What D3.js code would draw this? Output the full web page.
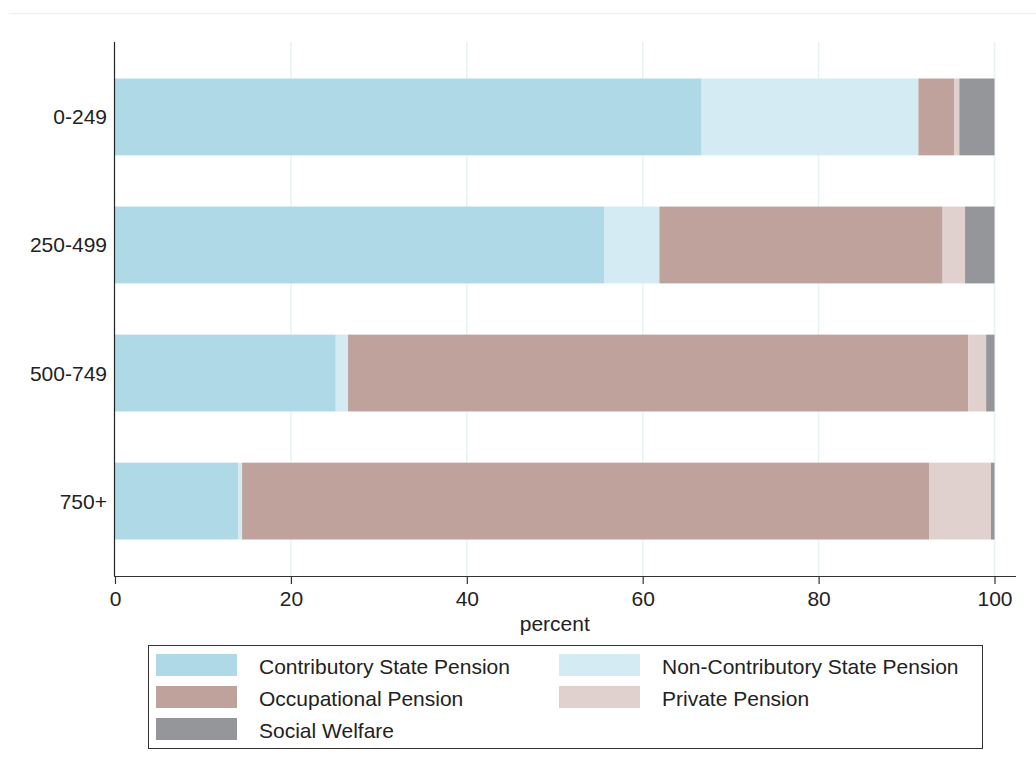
<!DOCTYPE html>
<html>
<head>
<meta charset="utf-8">
<script src="https://cdn.jsdelivr.net/npm/d3@7"></script>
<style>
  html, body { margin: 0; padding: 0; background: #fff; }
  svg { display: block; font-family: "Liberation Sans", Arial, sans-serif; }
</style>
</head>
<body>
<svg id="chart" width="1036" height="775"></svg>
<script>
const categories = ["0-249", "250-499", "500-749", "750+"];
const seriesNames = ["Contributory State Pension", "Non-Contributory State Pension", "Occupational Pension", "Private Pension", "Social Welfare"];
const contributory    = [66.7, 55.6, 25.1, 14.0];
const nonContributory = [24.65, 6.3, 1.4, 0.45];
const occupational    = [4.05, 32.2, 70.5, 78.15];
const privatePension  = [0.6, 2.55, 2.05, 7.0];
const socialWelfare   = [4.0, 3.35, 0.95, 0.4];
const xTicks = [0, 20, 40, 60, 80, 100];
const colors = ["#afd9e6", "#d5ebf3", "#bea29b", "#e0d1ce", "#95969a"];

const seriesValues = [contributory, nonContributory, occupational, privatePension, socialWelfare];
const rows = categories.map((c, i) => {
  const r = { cat: c };
  seriesNames.forEach((s, j) => r[s] = seriesValues[j][i]);
  return r;
});

const FS = 21;
const svg = d3.select("#chart");

// top faint border line
svg.append("line").attr("x1", 9).attr("x2", 1036).attr("y1", 13.5).attr("y2", 13.5)
  .attr("stroke", "#edf2f2").attr("stroke-width", 1.5);

const x = d3.scaleLinear().domain([0, 100]).range([115, 994.5]);
const y = d3.scaleBand().domain(categories).range([42, 576]).paddingInner(0.4).paddingOuter(0.285);

// gridlines
svg.append("g").selectAll("line").data(xTicks.filter(t => t > 0)).join("line")
  .attr("x1", d => x(d)).attr("x2", d => x(d)).attr("y1", 42).attr("y2", 576)
  .attr("stroke", "#e9f1f1").attr("stroke-width", 1.5);

// bars
const stack = d3.stack().keys(seriesNames);
const stacked = stack(rows);
svg.append("g").selectAll("g").data(stacked).join("g")
  .attr("fill", (d, i) => colors[i])
  .selectAll("rect").data(d => d).join("rect")
  .attr("x", d => x(d[0]))
  .attr("width", d => Math.max(0, x(d[1]) - x(d[0])))
  .attr("y", d => y(d.data.cat))
  .attr("height", y.bandwidth());

// y axis
svg.append("line").attr("x1", 114.5).attr("x2", 114.5).attr("y1", 42).attr("y2", 576)
  .attr("stroke", "#222").attr("stroke-width", 1.2);
svg.append("g").selectAll("text").data(categories).join("text")
  .attr("x", 107).attr("y", d => y(d) + y.bandwidth() / 2)
  .attr("text-anchor", "end").attr("dominant-baseline", "central")
  .attr("font-size", FS).attr("fill", "#222").text(d => d);

// x axis
const xAxis = d3.axisBottom(x).tickValues(xTicks).tickSize(8).tickPadding(7).tickSizeOuter(0);
const gx = svg.append("g").attr("transform", "translate(0,576)").call(xAxis);
gx.select(".domain").attr("d", "M114,0.5H1016").attr("stroke", "#333").attr("stroke-width", 1.2);
gx.selectAll(".tick line").attr("stroke", "#333").attr("stroke-width", 1.2);
gx.selectAll(".tick text").attr("font-size", FS).attr("fill", "#222")
  .attr("font-family", "Liberation Sans, Arial, sans-serif");

svg.append("text").attr("x", (x(0) + x(100)) / 2).attr("y", 623)
  .attr("text-anchor", "middle").attr("dominant-baseline", "central")
  .attr("font-size", FS).attr("fill", "#222").text("percent");

// legend
const lg = svg.append("g");
lg.append("rect").attr("x", 148.5).attr("y", 645.5).attr("width", 834).attr("height", 103)
  .attr("fill", "none").attr("stroke", "#333").attr("stroke-width", 1);
const colX = [156, 559];
const rowY = [654, 686, 718];
seriesNames.forEach((s, i) => {
  const cx = colX[i % 2], ry = rowY[Math.floor(i / 2)];
  lg.append("rect").attr("x", cx).attr("y", ry).attr("width", 81).attr("height", 22).attr("fill", colors[i]);
  lg.append("text").attr("x", cx + 103).attr("y", ry + 12).attr("dominant-baseline", "central")
    .attr("font-size", FS).attr("fill", "#222").text(s);
});
</script>
</body>
</html>
